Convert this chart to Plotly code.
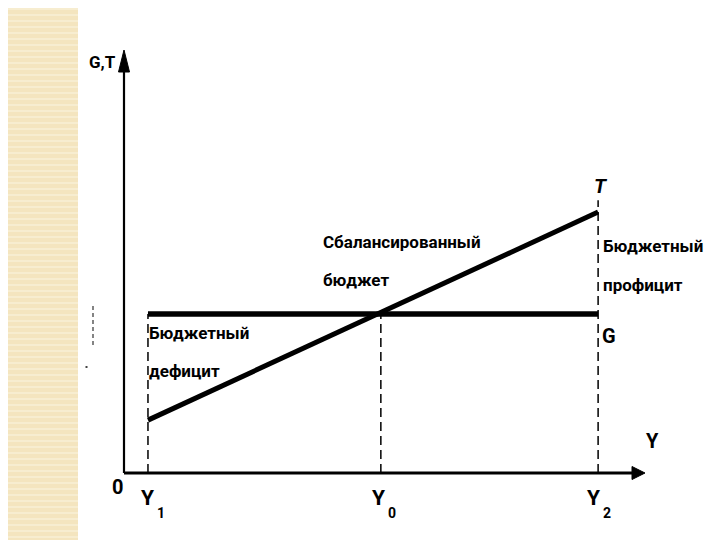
import plotly.graph_objects as go

# ---- data (economic units) ----
y_points = ["Y1", "Y0", "Y2"]
y_subs = ["1", "0", "2"]
y_values = [4.6, 49.3, 91.0]          # income levels on horizontal axis
g_level = 37.6                        # government spending (constant)
t_values = [12.5, 61.7]               # taxes at Y1 and Y2
x_max = 100
y_max = 100

# ---- layout geometry (target picture pixels) ----
W, H = 720, 540
OFF = 8                     # page body margin offset
AX_X0, AX_X1 = 124, 645     # pixel x of origin and x-axis tip
AX_Y0, AX_Y1 = 473, 50      # pixel y of origin and y-axis tip
PAD = 15                    # extra plot area around the axes (px)
pw, ph = AX_X1 - AX_X0, AX_Y0 - AX_Y1
ux, uy = x_max / pw, y_max / ph      # data units per pixel

L = AX_X0 - OFF - PAD
R = W - (AX_X1 - OFF) - PAD
T_ = AX_Y1 - OFF - PAD
B = H - (AX_Y0 - OFF) - PAD

def pxp(px):   # target pixel x -> paper x
    return (px - (AX_X0 - PAD)) / (pw + 2 * PAD)

def pyp(py):   # target pixel y -> paper y
    return ((AX_Y0 + PAD) - py) / (ph + 2 * PAD)

FONT = "Roboto, Liberation Sans, sans-serif"

fig = go.Figure()

# axis lines
fig.add_trace(go.Scatter(x=[0, 0], y=[0, y_max - 18 * uy], mode="lines",
                         line=dict(color="black", width=2.2), hoverinfo="skip", showlegend=False))
fig.add_trace(go.Scatter(x=[0, x_max - 10 * ux], y=[0, 0], mode="lines",
                         line=dict(color="black", width=3), hoverinfo="skip", showlegend=False))
# arrowheads (filled triangles)
fig.add_trace(go.Scatter(x=[-5.5 * ux, 0, 5.5 * ux, -5.5 * ux],
                         y=[y_max - 22 * uy, y_max, y_max - 22 * uy, y_max - 22 * uy],
                         mode="lines", fill="toself", fillcolor="black",
                         line=dict(color="black", width=1), hoverinfo="skip", showlegend=False))
fig.add_trace(go.Scatter(x=[x_max - 13 * ux, x_max, x_max - 13 * ux, x_max - 13 * ux],
                         y=[6.5 * uy, 0, -6.5 * uy, 6.5 * uy],
                         mode="lines", fill="toself", fillcolor="black",
                         line=dict(color="black", width=1), hoverinfo="skip", showlegend=False))

# dashed verticals
dash_tops = [g_level, g_level, max(t_values) + 2.8]
for xv, top in zip(y_values, dash_tops):
    fig.add_trace(go.Scatter(x=[xv, xv], y=[0, top], mode="lines",
                             line=dict(color="black", width=1.5, dash="9px,5px"),
                             hoverinfo="skip", showlegend=False))

# G line
fig.add_trace(go.Scatter(x=[y_values[0], y_values[2]], y=[g_level, g_level], mode="lines",
                         line=dict(color="black", width=5.5), showlegend=False))
# T line
fig.add_trace(go.Scatter(x=[y_values[0], y_values[2]], y=t_values, mode="lines",
                         line=dict(color="black", width=5), showlegend=False))

annotations = []

def txt(s, px, py, size=17, xanchor="center", italic=False):
    annotations.append(dict(
        x=pxp(px), y=pyp(py), xref="paper", yref="paper", text=s,
        showarrow=False, xanchor=xanchor, yanchor="middle", borderpad=0,
        font=dict(family=FONT, size=size, color="black", weight="bold",
                  style="italic" if italic else "normal")))

txt("G,T", 102, 62, size=17)
txt("0", 117, 487, size=20)
txt("Y", 652, 441, size=20)
txt("T", 601, 186, size=20, italic=True)
txt("G", 609, 336, size=20)
for sub, xr in zip(y_subs, [155, 386, 601]):
    txt("Y", xr, 498, size=21, xanchor="right")
    txt(sub, xr + 1, 513, size=14, xanchor="left")

txt("Сбалансированный", 322, 242, size=17, xanchor="left")
txt("бюджет", 322, 280, size=17, xanchor="left")
txt("Бюджетный", 148, 333, size=17, xanchor="left")
txt("дефицит", 148, 371, size=17, xanchor="left")
txt("Бюджетный", 602, 246, size=17, xanchor="left")
txt("профицит", 602, 285, size=17, xanchor="left")

shapes = [
    # beige decorative strip on the left
    dict(type="rect", xref="paper", yref="paper",
         x0=pxp(-10), x1=pxp(78), y0=pyp(H + 10), y1=pyp(-10),
         fillcolor="#f4e5bf", line=dict(width=0), layer="below"),
    # small artifacts
    dict(type="line", xref="paper", yref="paper",
         x0=pxp(93), x1=pxp(93), y0=pyp(306), y1=pyp(348),
         line=dict(color="#333", width=1.2, dash="4px,3px")),
    dict(type="rect", xref="paper", yref="paper",
         x0=pxp(85.5), x1=pxp(87.5), y0=pyp(368), y1=pyp(366),
         fillcolor="#444", line=dict(width=0)),
]
# stripes on the beige strip
for i in range(-10, H + 10, 6):
    shapes.append(dict(type="line", xref="paper", yref="paper",
                       x0=pxp(-10), x1=pxp(78),
                       y0=pyp(i + 1), y1=pyp(i + 1),
                       line=dict(color="#f9efd6", width=1.5), layer="below"))

fig.update_layout(
    width=W, height=H,
    margin=dict(l=L, r=R, t=T_, b=B, pad=0),
    paper_bgcolor="white", plot_bgcolor="white",
    xaxis=dict(range=[-PAD * ux, x_max + PAD * ux], visible=False, fixedrange=True),
    yaxis=dict(range=[-PAD * uy, y_max + PAD * uy], visible=False, fixedrange=True),
    annotations=annotations, shapes=shapes, showlegend=False,
)

fig.write_html("out.html")
